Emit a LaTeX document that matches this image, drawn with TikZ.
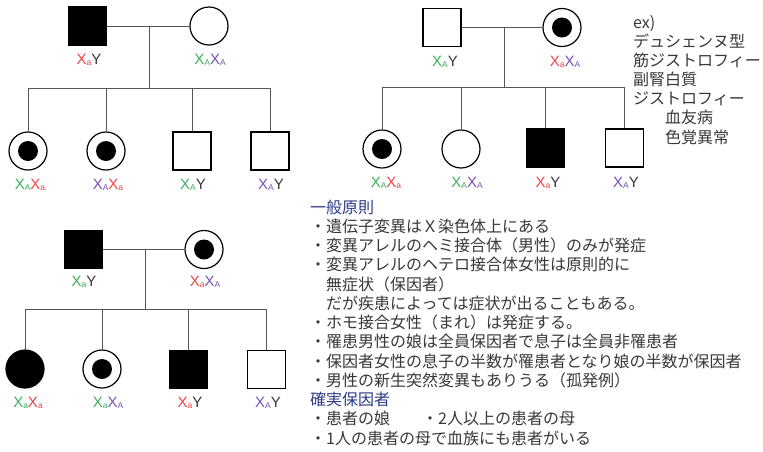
\documentclass[tikz,border=0pt]{standalone}
\usepackage{fontspec}
\setmainfont{Noto Sans CJK JP}
\newfontfamily\genofont{Liberation Sans}
\usetikzlibrary{positioning}
\definecolor{ared}{HTML}{EE4246}
\definecolor{agreen}{HTML}{3DB05A}
\definecolor{apurple}{HTML}{7A50B4}
\definecolor{agray}{HTML}{383838}
\definecolor{hblue}{HTML}{2E3A88}
\definecolor{lgray}{HTML}{555555}
% one X allele: colour, subscript
\newcommand{\xal}[2]{\textcolor{#1}{X\raisebox{-0.15ex}{\fontsize{8.5}{8.5}\selectfont #2}}}
\newcommand{\yal}{\textcolor{agray}{Y}}

\begin{document}
\begin{tikzpicture}[x=1pt,y=-1pt,
  male/.style={draw=black,line width=1.2pt,fill=white,minimum size=38pt,inner sep=0pt},
  female/.style={circle,draw=black,line width=1.2pt,fill=white,minimum size=38pt,inner sep=0pt},
  carrier/.style={female,path picture={\fill[black] (path picture bounding box.center) circle (10pt);}},
  aff/.style={fill=black},
  line/.style={draw=lgray,line width=0.9pt},
  geno/.style={font=\genofont\fontsize{15}{15}\selectfont,inner sep=0pt},
  txt/.style={anchor=base west,inner sep=0pt,font=\fontsize{16}{16}\selectfont,text=agray}]
  \useasboundingbox (0,0) rectangle (763,451);

  % ---------------- top left: affected father ----------------
  \node[male,aff] (af) at (87.5,26) {};
  \node[female] (am) at (209,26) {};
  \coordinate (amid) at (149,26);
  \coordinate (asib) at (149,88);
  \node[carrier] (ac1) at (28,151) {};
  \node[carrier] (ac2) at (106,151) {};
  \node[male] (ac3) at (192,151) {};
  \node[male] (ac4) at (270,151) {};
  \draw[line] (af) -- (am);
  \draw[line] (amid) -- (asib);
  \draw[line] (ac1.north |- asib) -- (ac4.north |- asib);
  \foreach \c in {ac1,ac2,ac3,ac4} \draw[line] (\c.north |- asib) -- (\c.north);
  \node[geno] (afg) at (89,60) {\xal{ared}{a}\yal};
  \node[geno] (amg) at (210,60) {\xal{agreen}{A}\xal{apurple}{A}};
  \node[geno] (ac1g) at (30,185) {\xal{agreen}{A}\xal{ared}{a}};
  \node[geno] (ac2g) at (108,185) {\xal{apurple}{A}\xal{ared}{a}};
  \node[geno] (ac3g) at (193,185) {\xal{agreen}{A}\yal};
  \node[geno] (ac4g) at (271,185) {\xal{apurple}{A}\yal};

  % ---------------- top right: carrier mother ----------------
  \node[male] (bf) at (442,27.5) {};
  \node[carrier] (bm) at (562,27.5) {};
  \coordinate (bmid) at (504,27.5);
  \coordinate (bsib) at (504,87);
  \node[carrier] (bc1) at (382,149) {};
  \node[female] (bc2) at (461,149) {};
  \node[male,aff] (bc3) at (545.5,148) {};
  \node[male] (bc4) at (624.5,148) {};
  \draw[line] (bf) -- (bm);
  \draw[line] (bmid) -- (bsib);
  \draw[line] (bc1.north |- bsib) -- (bc4.north |- bsib);
  \foreach \c in {bc1,bc2,bc3,bc4} \draw[line] (\c.north |- bsib) -- (\c.north);
  \node[geno] (bfg) at (445,62) {\xal{agreen}{A}\yal};
  \node[geno] (bmg) at (565,62) {\xal{ared}{a}\xal{apurple}{A}};
  \node[geno] (bc1g) at (386,183) {\xal{agreen}{A}\xal{ared}{a}};
  \node[geno] (bc2g) at (467,183) {\xal{agreen}{A}\xal{apurple}{A}};
  \node[geno] (bc3g) at (548,183) {\xal{ared}{a}\yal};
  \node[geno] (bc4g) at (626,183) {\xal{apurple}{A}\yal};

  % examples
  \foreach \t [count=\i from 0] in {ex),デュシェンヌ型,筋ジストロフィー,副腎白質,ジストロフィー,\hspace*{2em}血友病,\hspace*{2em}色覚異常}
    \node[txt] (ex\i) at (633,28+19.17*\i) {\t};

  % ---------------- bottom left: both parents ----------------
  \node[male,aff] (cf) at (83.5,249.5) {};
  \node[carrier] (cm) at (204,249.5) {};
  \coordinate (cmid) at (145,249.5);
  \coordinate (csib) at (145,309);
  \node[female,aff] (cc1) at (25,369) {};
  \node[carrier] (cc2) at (102,369) {};
  \node[male,aff] (cc3) at (188.5,369.5) {};
  \node[male] (cc4) at (266.5,369.5) {};
  \draw[line] (cf) -- (cm);
  \draw[line] (cmid) -- (csib);
  \draw[line] (cc1.north |- csib) -- (cc4.north |- csib);
  \foreach \c in {cc1,cc2,cc3,cc4} \draw[line] (\c.north |- csib) -- (\c.north);
  \node[geno] (cfg) at (84,282) {\xal{agreen}{a}\yal};
  \node[geno] (cmg) at (205,282) {\xal{ared}{a}\xal{apurple}{A}};
  \node[geno] (cc1g) at (28,403) {\xal{agreen}{a}\xal{ared}{a}};
  \node[geno] (cc2g) at (108,403) {\xal{agreen}{a}\xal{apurple}{A}};
  \node[geno] (cc3g) at (190,403) {\xal{ared}{a}\yal};
  \node[geno] (cc4g) at (268,403) {\xal{apurple}{A}\yal};

  % ---------------- rules ----------------
  \foreach \t [count=\i from 0] in {
    \textcolor{hblue}{一般原則},
    ・遺伝子変異はＸ染色体上にある,
    ・変異アレルのヘミ接合体（男性）のみが発症,
    ・変異アレルのヘテロ接合体女性は原則的に,
    \hspace*{1em}無症状（保因者）,
    \hspace*{1em}だが疾患によっては症状が出ることもある。,
    ・ホモ接合女性（まれ）は発症する。,
    ・罹患男性の娘は全員保因者で息子は全員非罹患者,
    ・保因者女性の息子の半数が罹患者となり娘の半数が保因者,
    ・男性の新生突然変異もありうる（孤発例）,
    \textcolor{hblue}{確実保因者},
    ・患者の娘\hspace*{2em}・2人以上の患者の母,
    ・1人の患者の母で血族にも患者がいる}
    \node[txt] (rule\i) at (310,213+19.25*\i) {\t};
\end{tikzpicture}
\end{document}
